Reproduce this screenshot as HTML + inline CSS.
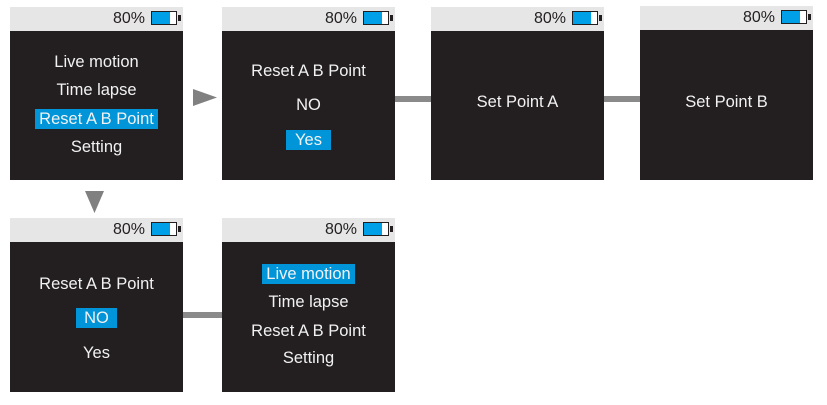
<!DOCTYPE html>
<html><head><meta charset="utf-8"><style>
body{margin:0;width:827px;height:405px;background:#fff;position:relative;overflow:hidden;font-family:"Liberation Sans",sans-serif;}
.s{position:absolute;width:173px;background:#231f20;}
.h{position:absolute;left:0;top:0;width:173px;height:24px;background:#e6e6e6;}
.p{position:absolute;right:38px;top:3px;font-size:16px;color:#231f20;}
.b{position:absolute;right:6px;top:4px;width:26px;height:14px;border:1.5px solid #231f20;box-sizing:border-box;background:linear-gradient(90deg,#00a0e9 0 75%,#fff 75%);}
.b:after{content:"";position:absolute;right:-5px;top:3px;width:3px;height:6px;background:#231f20;}
.t{position:absolute;left:0;width:173px;text-align:center;color:#f2f2f2;font-size:16.5px;line-height:20px;}
.t span.hl{background:#0095d9;padding:1px 4px;}
.bar{position:absolute;background:#8a8a8a;height:6px;}
</style></head><body>
<div class="s" style="left:10px;top:7px;height:173px"><div class="h"><span class="p">80%</span><span class="b"></span></div>
<div class="t" style="top:45px">Live motion</div><div class="t" style="top:73px">Time lapse</div>
<div class="t" style="top:102px"><span class="hl">Reset A B Point</span></div><div class="t" style="top:130px">Setting</div></div>

<div class="s" style="left:222px;top:7px;height:173px"><div class="h"><span class="p">80%</span><span class="b"></span></div>
<div class="t" style="top:54px">Reset A B Point</div><div class="t" style="top:88px">NO</div>
<div class="t" style="top:123px"><span class="hl">&nbsp;Yes&nbsp;</span></div></div>

<div class="s" style="left:431px;top:7px;height:173px"><div class="h"><span class="p">80%</span><span class="b"></span></div>
<div class="t" style="top:85px">Set Point A</div></div>

<div class="s" style="left:640px;top:6px;height:174px"><div class="h"><span class="p">80%</span><span class="b"></span></div>
<div class="t" style="top:86px">Set Point B</div></div>

<div class="s" style="left:10px;top:218px;height:174px"><div class="h"><span class="p">80%</span><span class="b"></span></div>
<div class="t" style="top:56px">Reset A B Point</div>
<div class="t" style="top:90px"><span class="hl">&nbsp;NO&nbsp;</span></div><div class="t" style="top:125px">Yes</div></div>

<div class="s" style="left:222px;top:218px;height:174px"><div class="h"><span class="p">80%</span><span class="b"></span></div>
<div class="t" style="top:46px"><span class="hl">Live motion</span></div><div class="t" style="top:74px">Time lapse</div>
<div class="t" style="top:103px">Reset A B Point</div><div class="t" style="top:130px">Setting</div></div>

<div class="bar" style="left:395px;top:96px;width:36px"></div>
<div class="bar" style="left:604px;top:96px;width:36px"></div>
<div class="bar" style="left:183px;top:312px;width:39px"></div>
<svg style="position:absolute;left:0;top:0" width="827" height="405">
<polygon points="193,89 217,97.5 193,106" fill="#808080"/>
<polygon points="85,191 104,191 94.5,213" fill="#808080"/>
</svg>
</body></html>
